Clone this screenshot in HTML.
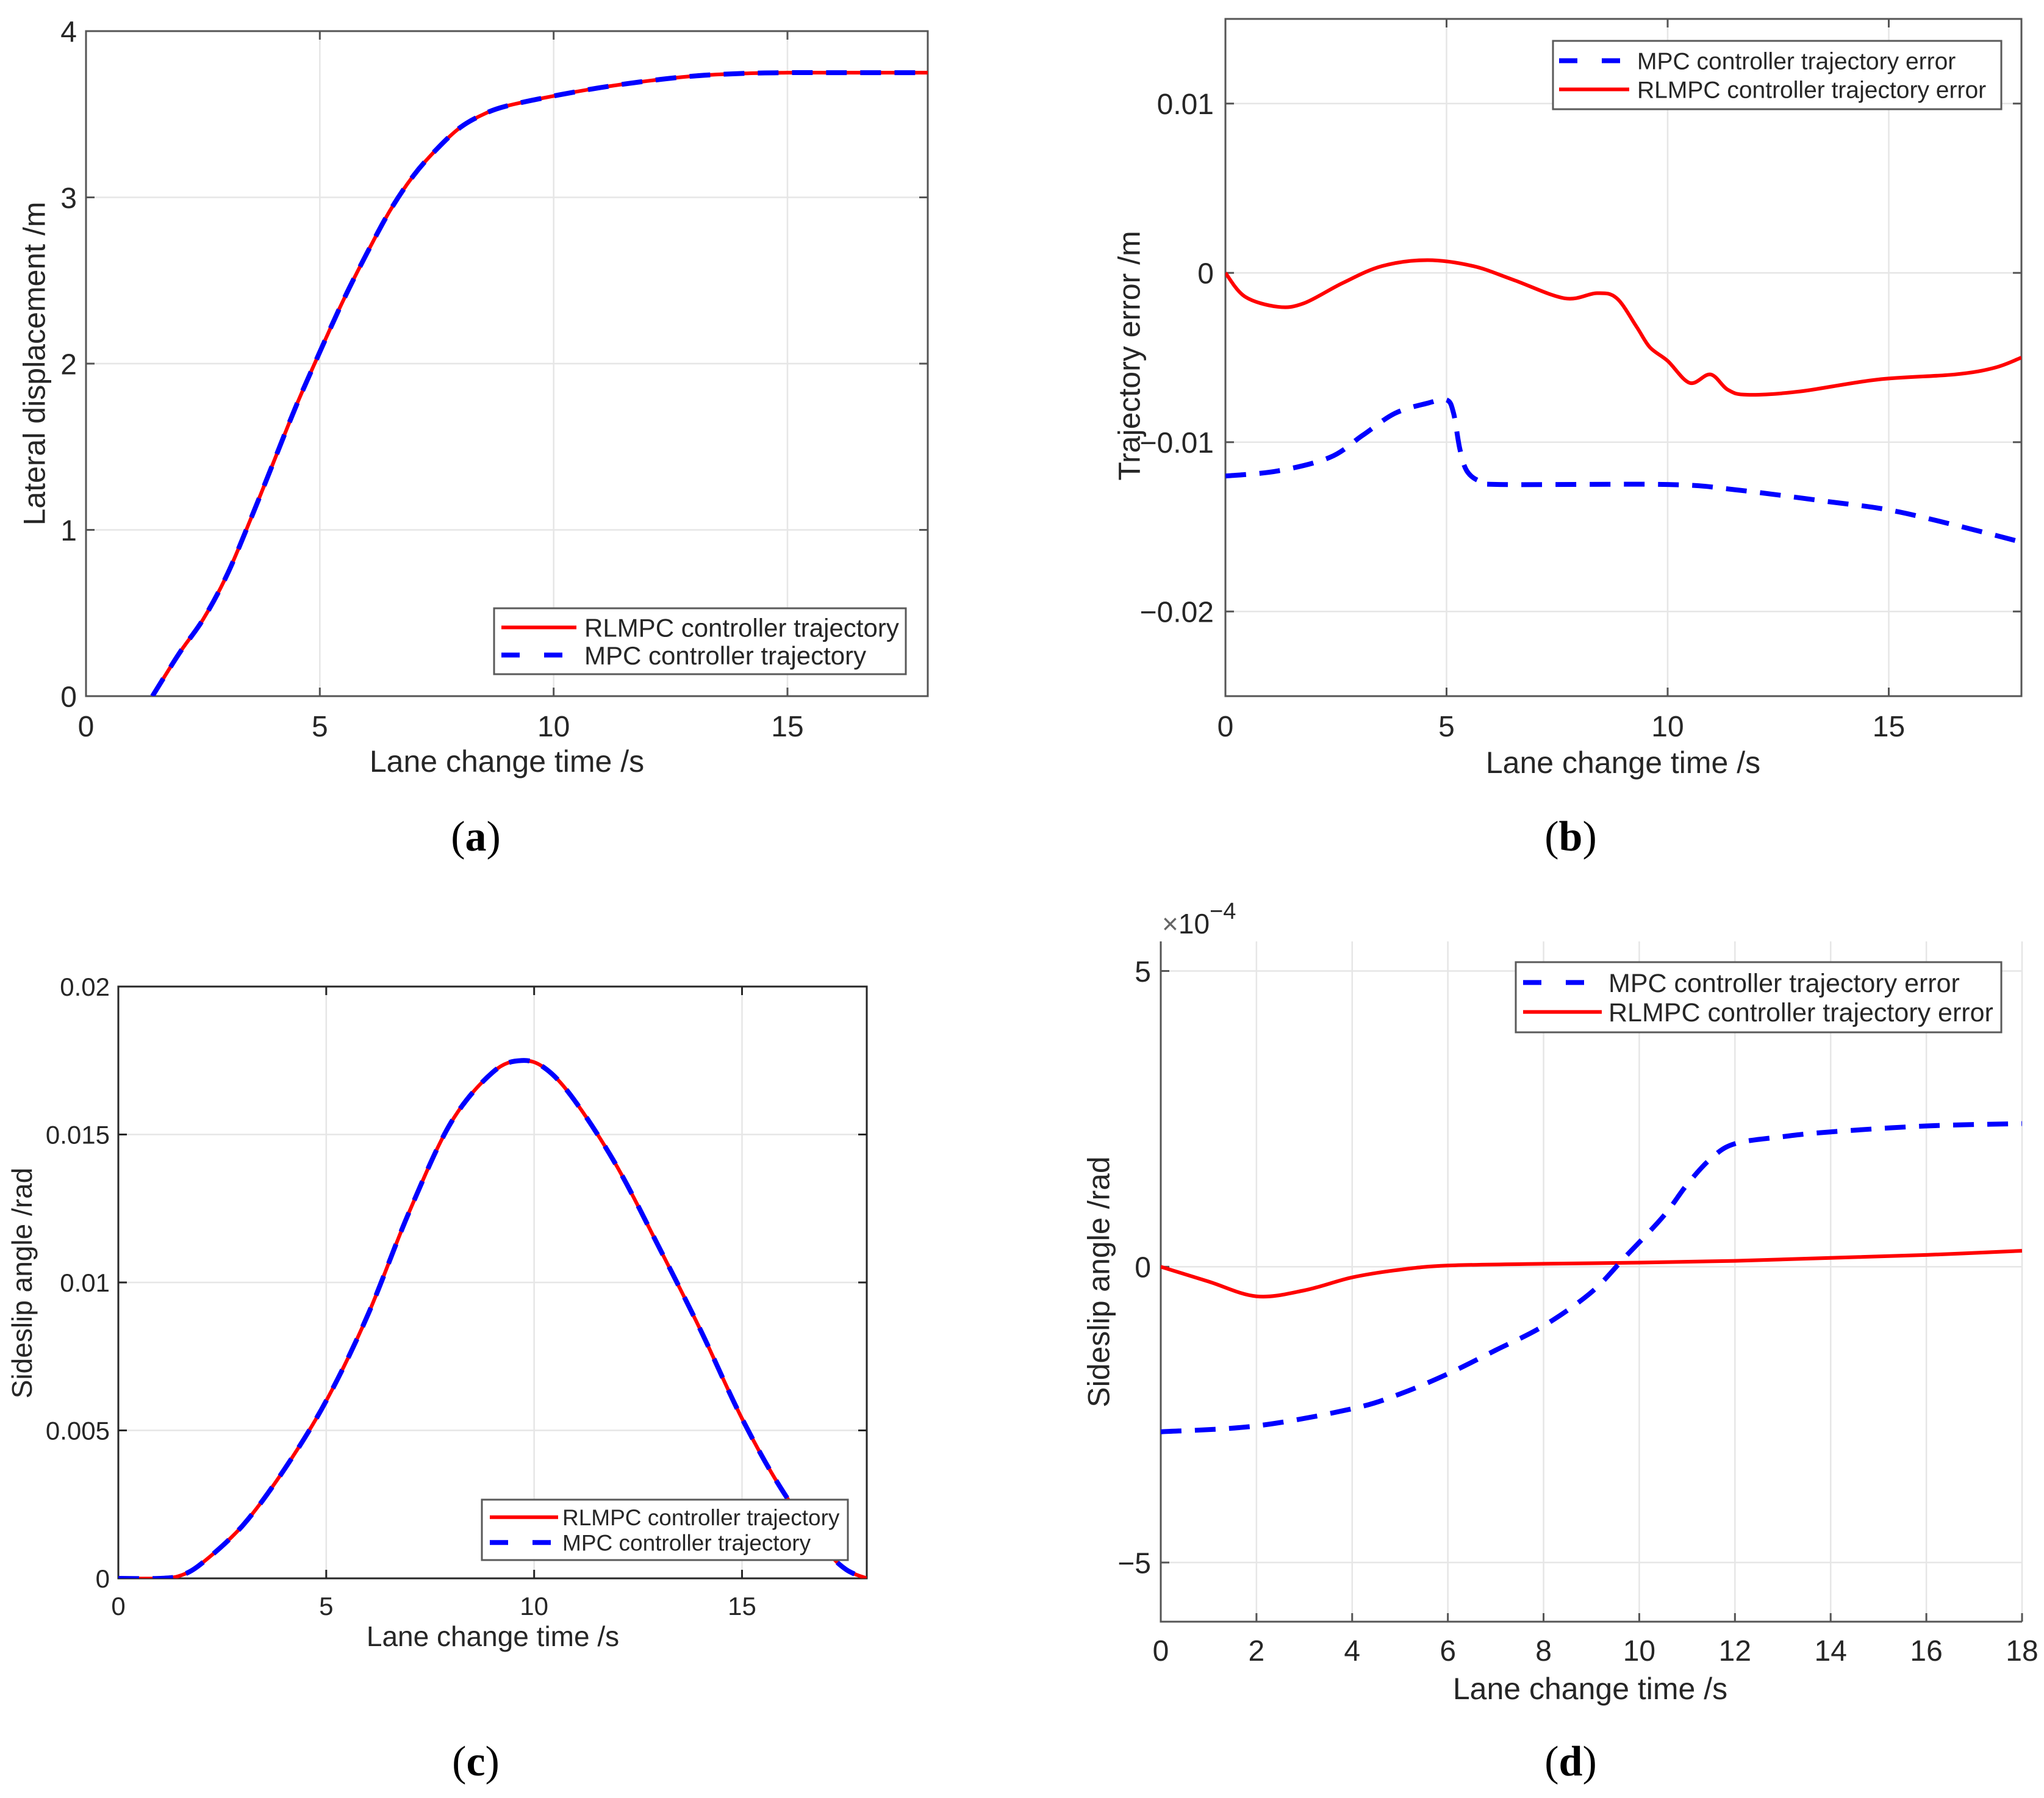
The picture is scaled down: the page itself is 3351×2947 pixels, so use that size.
<!DOCTYPE html>
<html><head><meta charset="utf-8"><style>
html,body{margin:0;padding:0;background:#fff}
svg{display:block}
text{font-family:"Liberation Sans",sans-serif;fill:#262626}
.cap{font-family:"Liberation Serif",serif;fill:#000;font-size:70px}
</style></head><body>
<svg id="fig" width="3351" height="2947" viewBox="0 0 3351 2947" xmlns="http://www.w3.org/2000/svg">
<text class="cap" x="780" y="1394" text-anchor="middle">(<tspan font-weight="bold">a</tspan>)</text>
<text class="cap" x="2575" y="1394" text-anchor="middle">(<tspan font-weight="bold">b</tspan>)</text>
<text class="cap" x="780" y="2910" text-anchor="middle">(<tspan font-weight="bold">c</tspan>)</text>
<text class="cap" x="2575" y="2910" text-anchor="middle">(<tspan font-weight="bold">d</tspan>)</text>
</svg>
<script>
// Panel (a) lateral displacement
const aTime = [1.42,2,2.5,3,3.5,4,4.5,5,5.5,6,6.5,7,7.5,8,8.5,9,10,11,12,13,14,15,16,18];
const aRL   = [0,0.26,0.46,0.72,1.05,1.40,1.75,2.07,2.38,2.66,2.92,3.13,3.29,3.42,3.50,3.55,3.61,3.66,3.70,3.73,3.745,3.75,3.75,3.75];
const aMPC  = [0,0.26,0.46,0.72,1.05,1.40,1.75,2.07,2.38,2.66,2.92,3.13,3.29,3.42,3.50,3.55,3.61,3.66,3.70,3.73,3.745,3.75,3.75,3.75];
const aXTicks = [0,5,10,15];
const aYTicks = [0,1,2,3,4];
const aYLabels = ["0","1","2","3","4"];
// Panel (b) trajectory error
const bRLTime = [0,0.44,1.18,1.77,2.65,3.54,4.57,5.6,6.5,7.67,8.4,8.85,9.3,9.6,10.0,10.5,10.97,11.36,11.8,13,14.75,16.5,17.4,18];
const bRL     = [0,-0.0014,-0.002,-0.0018,-0.0006,0.0004,0.00075,0.0004,-0.0004,-0.0015,-0.0012,-0.0015,-0.0032,-0.0044,-0.0052,-0.0065,-0.006,-0.0069,-0.0072,-0.007,-0.0063,-0.006,-0.0056,-0.005];
const bMPCTime = [0,1.18,2.36,3.1,3.83,4.57,5.0,5.16,5.3,5.46,5.75,6.2,10,11.5,13.6,15,16.5,18];
const bMPC     = [-0.012,-0.0117,-0.0109,-0.0096,-0.0083,-0.0077,-0.0075,-0.0083,-0.0104,-0.0117,-0.0123,-0.0125,-0.0125,-0.0128,-0.0135,-0.014,-0.0149,-0.0159];
const bXTicks = [0,5,10,15];
const bYTicks = [0.01,0,-0.01,-0.02];
const bYLabels = ["0.01","0","\u22120.01","\u22120.02"];
// Panel (c) sideslip angle
const cTime = [0,1,1.5,2,3,4,5,6,7,8,9,9.7,10.3,11,12,13,14,15,16,17,17.5,18];
const cRL   = [0,0,0.0001,0.0005,0.0018,0.0037,0.006,0.0089,0.0124,0.0154,0.0171,0.0175,0.0172,0.0161,0.0139,0.0112,0.0084,0.0054,0.0029,0.0010,0.0003,0];
const cMPC  = [0,0,0.0001,0.0005,0.0018,0.0037,0.006,0.0089,0.0124,0.0154,0.0171,0.0175,0.0172,0.0161,0.0139,0.0112,0.0084,0.0054,0.0029,0.0010,0.0003,0];
const cXTicks = [0,5,10,15];
const cYTicks = [0,0.005,0.01,0.015,0.02];
const cYLabels = ["0","0.005","0.01","0.015","0.02"];
// Panel (d) sideslip error (x1e-4)
const dMPCTime = [0,2,4,5,6,7,8,9,9.7,10.5,11,11.5,12,13,14,16,18];
const dMPC     = [-2.79,-2.69,-2.40,-2.15,-1.81,-1.41,-1.0,-0.43,0.16,0.85,1.39,1.83,2.08,2.2,2.28,2.38,2.42];
const dRLTime = [0,1,2,3,4,5,6,8,10,12,14,16,18];
const dRL     = [0,-0.25,-0.5,-0.4,-0.18,-0.05,0.02,0.05,0.07,0.1,0.15,0.2,0.27];
const dXTicks = [0,2,4,6,8,10,12,14,16,18];
const dYTicks = [5,0,-5];
const dYLabels = ["5","0","\u22125"];

const NS="http://www.w3.org/2000/svg";
const svg=document.getElementById('fig');
function mk(tag,attrs,parent){const e=document.createElementNS(NS,tag);for(const k in attrs)e.setAttribute(k,attrs[k]);(parent||svg).appendChild(e);return e;}
function pathD(xs,ys,sx,sy){
  const p=xs.map((x,i)=>[sx(x),sy(ys[i])]);
  let d='M'+p[0][0].toFixed(1)+','+p[0][1].toFixed(1);
  for(let i=0;i<p.length-1;i++){
    const p0=p[Math.max(0,i-1)],p1=p[i],p2=p[i+1],p3=p[Math.min(p.length-1,i+2)];
    const c1x=p1[0]+(p2[0]-p0[0])/6,c1y=p1[1]+(p2[1]-p0[1])/6;
    const c2x=p2[0]-(p3[0]-p1[0])/6,c2y=p2[1]-(p3[1]-p1[1])/6;
    d+=' C'+c1x.toFixed(1)+','+c1y.toFixed(1)+' '+c2x.toFixed(1)+','+c2y.toFixed(1)+' '+p2[0].toFixed(1)+','+p2[1].toFixed(1);
  }
  return d;
}
function panel(c){
  const g=mk('g',{});
  
  
  const sx=v=>c.L+(v-c.x0)/(c.x1-c.x0)*(c.R-c.L);
  const sy=v=>c.B-(v-c.y0)/(c.y1-c.y0)*(c.B-c.T);
  c.xt.forEach(v=>{const l=mk('line',{x1:sx(v),x2:sx(v),y1:c.T,y2:c.B,stroke:'#e6e6e6','stroke-width':2.5},g);
    });
  c.yt.forEach(v=>{const l=mk('line',{x1:c.L,x2:c.R,y1:sy(v),y2:sy(v),stroke:'#e6e6e6','stroke-width':2.5},g);
    });
  const ax=c.box?mk('rect',{x:c.L,y:c.T,width:c.R-c.L,height:c.B-c.T,fill:'none',stroke:c.axc,'stroke-width':3},g)
    :mk('path',{d:`M${c.L},${c.T} L${c.L},${c.B} L${c.R},${c.B}`,fill:'none',stroke:c.axc,'stroke-width':3},g);
  
  const tl=14;
  c.xt.forEach(v=>{mk('line',{x1:sx(v),x2:sx(v),y1:c.B,y2:c.B-tl,stroke:c.axc,'stroke-width':3},g);
    if(c.box)mk('line',{x1:sx(v),x2:sx(v),y1:c.T,y2:c.T+tl,stroke:c.axc,'stroke-width':3},g);
    const t=mk('text',{x:sx(v),y:c.xly,'text-anchor':'middle','font-size':c.tf},g);t.textContent=String(v);
    });
  c.yt.forEach((v,i)=>{mk('line',{x1:c.L,x2:c.L+tl,y1:sy(v),y2:sy(v),stroke:c.axc,'stroke-width':3},g);
    if(c.box)mk('line',{x1:c.R,x2:c.R-tl,y1:sy(v),y2:sy(v),stroke:c.axc,'stroke-width':3},g);
    const t=mk('text',{x:c.ylx,y:sy(v)+c.tf*0.36,'text-anchor':'end','font-size':c.tf},g);t.textContent=c.yl[i];
    });
  const xl=mk('text',{x:c.xlab[0],y:c.xlab[1],'text-anchor':'middle','font-size':c.lf},g);xl.textContent='Lane change time /s';
  
  const yl=mk('text',{x:c.ylab[0],y:c.ylab[1],'text-anchor':'middle','font-size':c.lf,transform:`rotate(-90 ${c.ylab[0]} ${c.ylab[1]})`,dy:c.lf*0.35},g);yl.textContent=c.ytitle;
  
  const clip='clip-'+c.name;
  const cp=mk('clipPath',{id:clip},g);mk('rect',{x:c.L,y:c.T,width:c.R-c.L,height:c.B-c.T},cp);
  c.series.forEach(s=>{
    const p=mk('path',{d:pathD(s.x,s.y,sx,sy),fill:'none',stroke:s.col,'stroke-width':s.dash?8:6,'stroke-dasharray':s.dash?'34 22':'none','clip-path':`url(#${clip})`},g);
    
  });
  const lg=c.leg;
  const lb=mk('rect',{x:lg.x,y:lg.y,width:lg.w,height:lg.h,fill:'#fff',stroke:'#5a5a5a','stroke-width':3},g);
  
  lg.items.forEach((it,i)=>{
    const yy=lg.y+lg.h*(i===0?0.29:0.71);
    const ln=mk('line',{x1:lg.sx0,x2:lg.sx1,y1:yy,y2:yy,stroke:it.col,'stroke-width':it.dash?8:6,'stroke-dasharray':it.dash?'30 40':'none'},g);
    
    const t=mk('text',{x:lg.tx,y:yy+lg.f*0.36,'font-size':lg.f},g);t.textContent=it.label;
    
  });
}
const RED='#ff0000',BLUE='#0000ff';
panel({name:'chart-a',L:141,R:1521,T:51,B:1141,x0:0,x1:18,y0:0,y1:4,xt:aXTicks,yt:aYTicks,yl:aYLabels,box:true,axc:'#555',
  tf:48,lf:50,xly:1207,ylx:126,xlab:[831,1265],ylab:[56,596],ytitle:'Lateral displacement /m',
  series:[{id:'rlmpc-line',x:aTime,y:aRL,col:RED},{id:'mpc-line',x:aTime,y:aMPC,col:BLUE,dash:true}],
  leg:{x:810,y:997,w:675,h:108,sx0:822,sx1:945,tx:958,f:42,items:[{label:'RLMPC controller trajectory',col:RED},{label:'MPC controller trajectory',col:BLUE,dash:true}]}});
panel({name:'chart-b',L:2009,R:3314,T:31,B:1141,x0:0,x1:18,y0:-0.025,y1:0.015,xt:bXTicks,yt:bYTicks,yl:bYLabels,box:true,axc:'#555',
  tf:48,lf:50,xly:1207,ylx:1990,xlab:[2661,1267],ylab:[1851,583],ytitle:'Trajectory error /m',
  series:[{id:'rlmpc-error-line',x:bRLTime,y:bRL,col:RED},{id:'mpc-error-line',x:bMPCTime,y:bMPC,col:BLUE,dash:true}],
  leg:{x:2546,y:67,w:735,h:112,sx0:2556,sx1:2671,tx:2684,f:39,items:[{label:'MPC controller trajectory error',col:BLUE,dash:true},{label:'RLMPC controller trajectory error',col:RED}]}});
panel({name:'chart-c',L:194,R:1421,T:1617,B:2587,x0:0,x1:18,y0:0,y1:0.02,xt:cXTicks,yt:cYTicks,yl:cYLabels,box:true,axc:'#262626',
  tf:42,lf:46,xly:2647,ylx:180,xlab:[808,2698],ylab:[36,2103],ytitle:'Sideslip angle /rad',
  series:[{id:'rlmpc-line',x:cTime,y:cRL,col:RED},{id:'mpc-line',x:cTime,y:cMPC,col:BLUE,dash:true}],
  leg:{x:790,y:2458,w:600,h:99,sx0:803,sx1:915,tx:922,f:37,items:[{label:'RLMPC controller trajectory',col:RED},{label:'MPC controller trajectory',col:BLUE,dash:true}]}});
panel({name:'chart-d',L:1903,R:3315,T:1543,B:2658,x0:0,x1:18,y0:-6,y1:5.5,xt:dXTicks,yt:dYTicks,yl:dYLabels,box:false,axc:'#555',
  tf:48,lf:50,xly:2722,ylx:1887,xlab:[2607,2785],ylab:[1801,2101],ytitle:'Sideslip angle /rad',
  series:[{id:'rlmpc-error-line',x:dRLTime,y:dRL,col:RED},{id:'mpc-error-line',x:dMPCTime,y:dMPC,col:BLUE,dash:true}],
  leg:{x:2485,y:1577,w:796,h:115,sx0:2497,sx1:2626,tx:2637,f:43,items:[{label:'MPC controller trajectory error',col:BLUE,dash:true},{label:'RLMPC controller trajectory error',col:RED}]}});
const ex=mk('text',{x:1905,y:1530,'font-size':46});


ex.innerHTML='<tspan fill="#666">\u00d7</tspan>10<tspan dy="-24" font-size="38">\u22124</tspan>';
</script>
</body></html>
